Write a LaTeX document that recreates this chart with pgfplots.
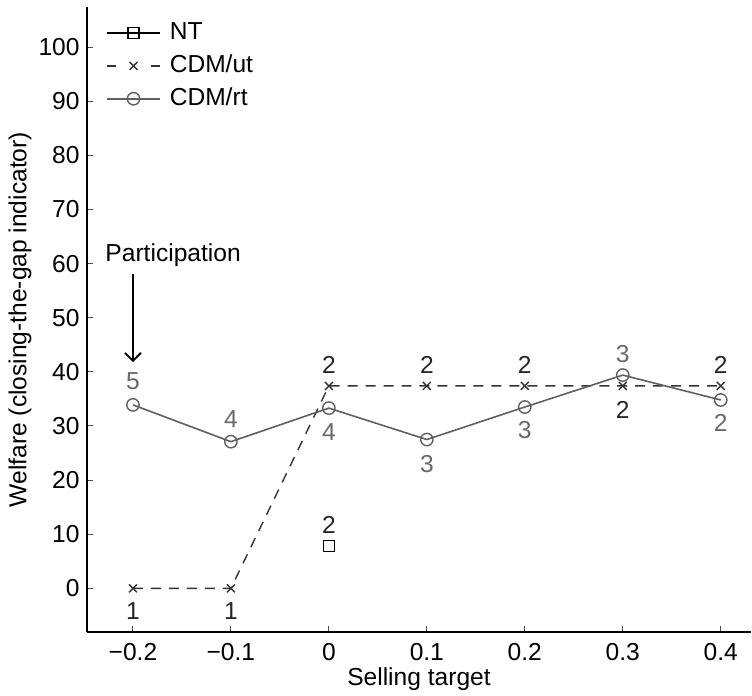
\documentclass[border=0pt]{standalone}
\usepackage{pgfplots}
\pgfplotsset{compat=1.18}
\usetikzlibrary{arrows.meta}
\usepackage{fontspec}
\setmainfont{Liberation Sans}
\definecolor{rtgray}{RGB}{95,95,95}
\definecolor{lblgray}{RGB}{105,105,105}
\pgfplotsset{utlegend/.style={legend image code/.code={\draw[##1, solid] (0pt,0pt)--(4.5pt,0pt) (22pt,0pt)--(26.5pt,0pt); \draw[##1,solid,only marks] plot coordinates {(13.25pt,0pt)};}}}
\begin{document}
\fontsize{12.3}{15}\selectfont
\begin{tikzpicture}
\begin{axis}[
  scale only axis,
  width=332.5pt, height=313pt,
  xmin=-0.247, xmax=0.431,
  ymin=-8.1, ymax=107.4,
  axis x line=bottom, axis y line=left,
  axis line style={-, line width=0.9pt},
  tick align=inside,
  major tick length=3pt,
  tick style={line width=0.5pt, color=black!70},
  xtick={-0.2,-0.1,0,0.1,0.2,0.3,0.4},
  xticklabels={−0.2,−0.1,0,0.1,0.2,0.3,0.4},
  ytick={0,10,...,100},
  /pgf/number format/assume math mode=true,
  ticklabel style={font=\fontsize{12.3}{15}\selectfont, inner sep=0pt},
  xticklabel style={anchor=center, yshift=-10pt},
  yticklabel style={anchor=east, xshift=-3.5pt},
  xlabel={Selling target},
  ylabel={Welfare (closing-the-gap indicator)},
  label style={font=\fontsize{12.3}{15}\selectfont},
  xlabel style={at={([yshift=-23.5pt]axis description cs:0.5,0)}, anchor=center, inner sep=0pt},
  ylabel style={at={([xshift=-33.5pt]axis description cs:0,0.5)}, anchor=center, inner sep=0pt},
  clip=false,
  legend style={at={(axis description cs:0,1)}, anchor=north west, xshift=6.5pt, yshift=-4pt,
    draw=none, fill=none, font=\fontsize{12.3}{15}\selectfont, row sep=3pt,
    nodes={text height=9pt, text depth=2.5pt, inner sep=1pt},
    /tikz/every odd column/.append style={column sep=3.5pt}},
  legend cell align=left,
  legend image code/.code={\draw[mark repeat=2,mark phase=2,#1] plot coordinates {(0pt,0pt) (13.25pt,0pt) (26.5pt,0pt)};},
]
\addplot[black, line width=0.7pt, mark=square, mark size=2.8pt, mark options={solid, fill=white, line width=0.7pt}]
  coordinates {(0,7.8)};
\addlegendentry{NT}
\addplot[black!80, line width=0.7pt, dash pattern=on 5pt off 4pt, mark=x, mark size=2.8pt, mark options={solid}, utlegend]
  coordinates {(-0.2,0) (-0.1,0) (0,37.4) (0.1,37.4) (0.2,37.4) (0.3,37.4) (0.4,37.4)};
\addlegendentry{CDM/ut}
\addplot[rtgray, line width=0.8pt, mark=o, mark size=3.1pt, mark options={solid, fill=white, line width=0.7pt}]
  coordinates {(-0.2,33.9) (-0.1,27.1) (0,33.3) (0.1,27.5) (0.2,33.5) (0.3,39.4) (0.4,34.8)};
\addlegendentry{CDM/rt}

% annotations CDM/rt (gray)
\node[lblgray] at (axis cs:-0.2,38.2) {5};
\node[lblgray] at (axis cs:-0.1,31.2) {4};
\node[lblgray] at (axis cs:0,28.8) {4};
\node[lblgray] at (axis cs:0.1,22.9) {3};
\node[lblgray] at (axis cs:0.2,29.3) {3};
\node[lblgray] at (axis cs:0.3,43.2) {3};
\node[lblgray] at (axis cs:0.4,30.6) {2};
% annotations CDM/ut (black)
\node[black!85] at (axis cs:-0.2,-4.2) {1};
\node[black!85] at (axis cs:-0.1,-4.2) {1};
\node[black!85] at (axis cs:0,41.3) {2};
\node[black!85] at (axis cs:0.1,41.3) {2};
\node[black!85] at (axis cs:0.2,41.3) {2};
\node[black!85] at (axis cs:0.3,33.0) {2};
\node[black!85] at (axis cs:0.4,41.3) {2};
% NT
\node[black!85] at (axis cs:0,11.8) {2};
% participation
\node at (axis cs:-0.159,61.5) {Participation};
\draw[-{Straight Barb[length=4pt,width=8pt]}, line width=0.9pt] (axis cs:-0.2,58) -- (axis cs:-0.2,41.8);
\end{axis}
\path[use as bounding box] (-43.5pt,-31.5pt) rectangle (332.5pt,316.5pt);
\end{tikzpicture}
\end{document}
